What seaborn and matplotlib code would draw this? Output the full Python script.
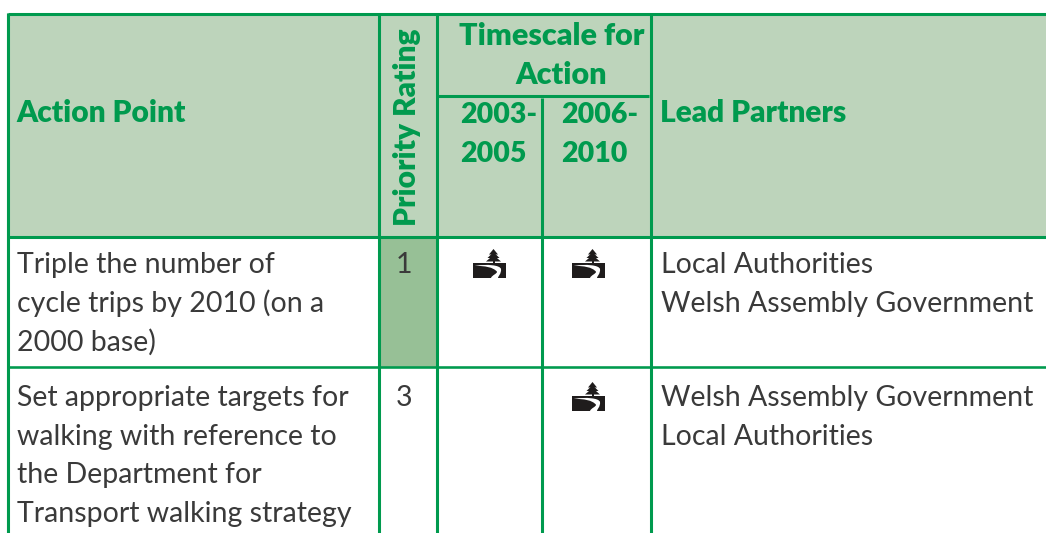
import numpy as np
import matplotlib
matplotlib.use("Agg")
import matplotlib.pyplot as plt
import seaborn as sns
from matplotlib.colors import ListedColormap
from matplotlib.patches import PathPatch, Polygon, Rectangle
from matplotlib.path import Path

GREEN = "#009a4e"
DARK = "#3a3a3a"

# cell fills: 0 white, 1 header, 2 priority 1
cell_codes = [[0, 0, 0, 0, 0, 0],
              [0, 1, 1, 1, 1, 1],
              [0, 0, 2, 0, 0, 0],
              [0, 0, 0, 0, 0, 0]]
fill_colors = ["#ffffff", "#bdd4bb", "#97c096"]

# table layout in pixels
col_edges = np.array([0, 8, 379, 437, 542, 651, 1046])
row_edges = np.array([0, 14, 237, 367, 533])

header_labels = ["Action Point", "Lead Partners"]
timescale_lines = ["Timescale for", "Action"]
period_a = ["2003-", "2005"]
period_b = ["2006-", "2010"]
priority_title = "Priority Rating"

action_rows = [["Triple the number of", "cycle trips by 2010 (on a", "2000 base)"],
               ["Set appropriate targets for", "walking with reference to",
                "the Department for", "Transport walking strategy"]]
priority_rows = ["1", "3"]
partner_rows = [["Local Authorities", "Welsh Assembly Government"],
                ["Welsh Assembly Government", "Local Authorities"]]
# which rows carry the marker in each period
marks_a = [True, False]
marks_b = [True, True]

sns.set_theme(style="white")
plt.rcParams["font.family"] = ["Lato", "DejaVu Sans"]


def draw_icon(ax, x0, y0):
    """tree over a river, x0/y0 is the top left of the marker in pixels"""
    black = "#1f1c1c"
    ax.add_patch(Rectangle((x0, y0 + 14), 33, 15, color=black, lw=0))
    tiers = [[(20.5, 0), (25, 5.5), (16, 5.5)],
             [(20.5, 3), (26.5, 9), (14.5, 9)],
             [(20.5, 6), (28, 12.5), (13, 12.5)]]
    for t in tiers:
        ax.add_patch(Polygon([(x0 + a, y0 + b) for a, b in t], color=black, lw=0))
    ax.add_patch(Rectangle((x0 + 19.5, y0 + 11), 2, 4, color=black, lw=0))
    verts = [(1.7, 16.7), (12, 17), (20, 18), (24, 22.7), (24, 25), (19, 26), (18, 29),
             (21, 29), (23, 29), (25, 29), (25, 27), (28.5, 25), (28, 20),
             (27, 16), (14, 15), (1.7, 16.7)]
    codes = [Path.MOVETO] + [Path.CURVE4] * 15
    path = Path([(x0 + a, y0 + b) for a, b in verts], codes)
    ax.add_patch(PathPatch(path, facecolor="white", edgecolor="none"))


def main():
    fig, ax = plt.subplots(figsize=(10.46, 5.33), dpi=100)
    ax.set_position([0, 0, 1, 1])

    # one heatmap cell per pixel, so the axes run in pixel units
    grid = np.repeat(np.repeat(np.array(cell_codes), np.diff(row_edges), axis=0),
                     np.diff(col_edges), axis=1)
    sns.heatmap(grid, ax=ax, cmap=ListedColormap(fill_colors), vmin=0, vmax=2,
                cbar=False, xticklabels=False, yticklabels=False, rasterized=True)

    lw = 2.2
    ax.vlines(6.5, 13, 533, color="#c9c9c9", lw=0.8)
    ax.hlines(row_edges[1:3], 8, 1046, color=GREEN, lw=lw)
    ax.hlines(row_edges[3], 8, 1046, color=GREEN, lw=lw * 0.85)
    ax.vlines([8, 379, 437, 651], 13, 533, color=GREEN, lw=lw)
    ax.vlines(542, 98, 533, color=GREEN, lw=lw)
    ax.hlines(96, 437, 649, color=GREEN, lw=lw)

    head = dict(color=GREEN, fontsize=21.5, fontweight="heavy", va="baseline")
    body = dict(color=DARK, fontsize=20.5, fontweight="normal", va="baseline")
    big = dict(head, fontsize=22)
    small = dict(head, fontsize=20.5)

    ax.text(16, 122, header_labels[0], **head)
    ax.text(660, 122, header_labels[1], **head)
    ax.text(552, 45, timescale_lines[0], ha="center", **big)
    ax.text(561, 84, timescale_lines[1], ha="center", **big)
    for i in range(2):
        ax.text(460, 123 + i * 38.5, period_a[i], **small)
        ax.text(561, 123 + i * 38.5, period_b[i], **small)
    ax.text(407, 226, priority_title, rotation=90, ha="left", va="center",
            rotation_mode="anchor", color=GREEN, fontsize=21.5, fontweight="heavy")

    tops = [273, 406]
    for r in range(2):
        for i, line in enumerate(action_rows[r]):
            ax.text(17, tops[r] + i * 38.7, line, **body)
        for i, line in enumerate(partner_rows[r]):
            ax.text(661, tops[r] + i * 38.7, line, **body)
        ax.text(404, tops[r], priority_rows[r], ha="center", **body)
        if marks_a[r]:
            draw_icon(ax, 473, tops[r] - 24)
        if marks_b[r]:
            draw_icon(ax, 572, tops[r] - 24)

    ax.set_xlim(0, 1046)
    ax.set_ylim(533, 0)
    fig.savefig("out.png", dpi=100)


if __name__ == "__main__":
    main()
